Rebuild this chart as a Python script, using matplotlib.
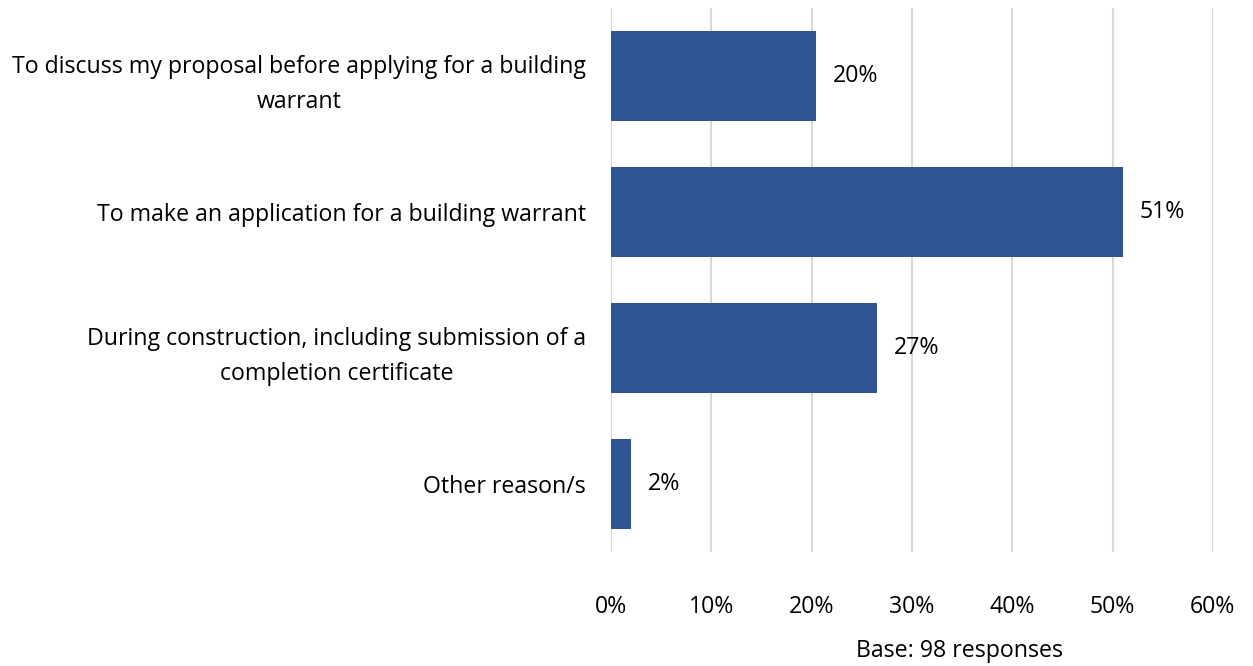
import matplotlib.pyplot as plt
from matplotlib.ticker import FuncFormatter

# reasons for contacting, top to bottom
categories = [
    'To discuss my proposal before applying for a building\nwarrant',
    'To make an application for a building warrant',
    'During construction, including submission of a\ncompletion certificate',
    'Other reason/s',
]
values = [20.4, 51.0, 26.5, 2.0]
value_labels = ['20%', '51%', '27%', '2%']
x_ticks = [0, 10, 20, 30, 40, 50, 60]
base_note = 'Base: 98 responses'

plt.rcParams['font.family'] = ['Open Sans', 'DejaVu Sans']
fs = 16.7

fig = plt.figure(figsize=(12.53, 6.66), dpi=100)
ax = fig.add_axes([0.4876, 0.171, 0.4804, 0.817])

ypos = list(range(len(categories)))
ax.barh(ypos, values, height=0.66, color='#2F5597', zorder=3)
for y, v, lab in zip(ypos, values, value_labels):
    ax.text(v + 1.7, y, lab, va='center', ha='left', fontsize=fs, color='#000000')

ax.set_ylim(len(categories) - 0.5, -0.5)
ax.set_xlim(0, 60)
ax.set_yticks(ypos)
ax.set_yticklabels(categories, fontsize=fs, ha='right', multialignment='center',
                   linespacing=1.6)
ax.set_xticks(x_ticks)
ax.xaxis.set_major_formatter(FuncFormatter(lambda v, p: f'{v:.0f}%'))
ax.tick_params(axis='x', labelsize=fs, length=0, pad=31)
ax.tick_params(axis='y', length=0, pad=18)
ax.grid(axis='x', color='#D9D9D9', linewidth=1.5, zorder=0)
for s in ax.spines.values():
    s.set_visible(False)

fig.text(0.766, 0.0225, base_note, fontsize=fs, ha='center', va='center')

fig.savefig('out.png', dpi=100)
